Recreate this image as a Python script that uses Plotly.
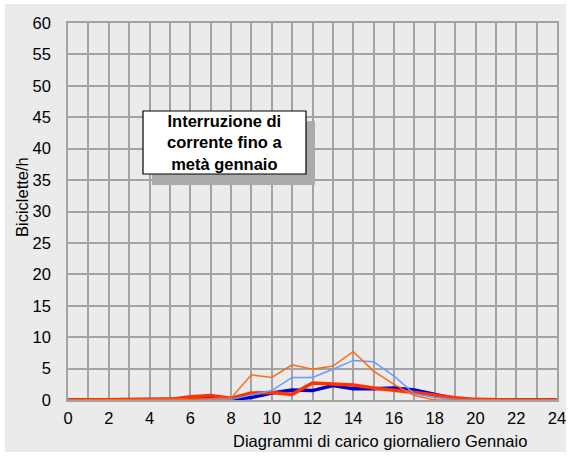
import plotly.graph_objects as go

hours = list(range(25))
thin_orange = [0, 0, 0, 0, 0, 0, 0.1, 0.2, 0.3, 4.0, 3.6, 5.6, 4.9, 5.4, 7.7, 4.6, 2.5, 0.7, 0, 0, 0, 0, 0, 0, 0]
light_blue = [0, 0, 0, 0, 0, 0, 0, 0.05, 0.1, 0.8, 1.5, 3.6, 3.6, 4.9, 6.3, 6.1, 3.8, 1.0, 0.4, 0.1, 0, 0, 0, 0, 0]
thick_blue = [0, 0, 0, 0, 0, 0, 0.1, 0.6, 0.1, 0.4, 1.1, 1.6, 1.5, 2.3, 1.8, 1.8, 1.9, 1.6, 0.9, 0.2, 0, 0, 0, 0, 0]
thick_red = [0, 0, 0, 0, 0, 0.1, 0.5, 0.7, 0.3, 1.1, 1.2, 0.9, 2.7, 2.6, 2.4, 1.9, 1.6, 1.2, 0.8, 0.35, 0.1, 0, 0, 0, 0]

x_ticks = list(range(0, 25, 2))
y_ticks = list(range(0, 61, 5))

FONT = "Liberation Sans, Arial, sans-serif"
FS = 16.5
W, H = 571, 459
L, R, T, B = 68, 14, 23, 59
PW, PH = W - L - R, H - T - B

def px(x):
    return (x - L) / PW

def py(y):
    return (H - B - y) / PH

fig = go.Figure()
fig.add_trace(go.Scatter(x=hours, y=thick_blue, mode="lines",
                         line=dict(color="#0000cc", width=3.5), showlegend=False))
fig.add_trace(go.Scatter(x=hours, y=thick_red, mode="lines",
                         line=dict(color="#ff3300", width=3.5), showlegend=False))
fig.add_trace(go.Scatter(x=hours, y=light_blue, mode="lines",
                         line=dict(color="#6699ff", width=1.5), showlegend=False))
fig.add_trace(go.Scatter(x=hours, y=thin_orange, mode="lines",
                         line=dict(color="#ff6a13", width=1.5), showlegend=False))

grid = "#a3a3a3"
fig.update_xaxes(range=[0, 24], tickvals=x_ticks, ticktext=[str(v) for v in x_ticks],
                 showgrid=True, gridcolor=grid, gridwidth=1.5,
                 minor=dict(dtick=1, showgrid=True, gridcolor=grid, gridwidth=1.5, ticks=""),
                 showline=True, linecolor=grid, linewidth=1.5, mirror=True,
                 zeroline=False, ticks="outside", ticklen=2, tickcolor="rgba(0,0,0,0)",
                 automargin=False,
                 tickfont=dict(family=FONT, size=FS, color="#000"))
fig.update_yaxes(range=[0, 60], tickvals=y_ticks, ticktext=[str(v) for v in y_ticks],
                 showgrid=True, gridcolor=grid, gridwidth=1.5,
                 showline=True, linecolor=grid, linewidth=1.5, mirror=True,
                 zeroline=False, ticks="outside", ticklen=12, tickcolor="rgba(0,0,0,0)",
                 automargin=False,
                 tickfont=dict(family=FONT, size=FS, color="#000"))

shapes = [
    dict(type="rect", xref="paper", yref="paper", layer="below",
         x0=px(5), x1=px(566), y0=py(452), y1=py(4),
         fillcolor="#ebebeb", line=dict(width=0)),
    dict(type="rect", xref="paper", yref="paper",
         x0=px(152), x1=px(315), y0=py(185), y1=py(121),
         fillcolor="#ababab", line=dict(width=0)),
    dict(type="rect", xref="paper", yref="paper",
         x0=px(143), x1=px(306), y0=py(174), y1=py(111),
         fillcolor="#ffffff", line=dict(color="#000000", width=1.2)),
]

annotations = [
    dict(xref="paper", yref="paper", x=px(224.5), y=py(142.5), xanchor="center", yanchor="middle",
         text="<b>Interruzione di<br>corrente fino a<br>metà gennaio</b>", showarrow=False,
         font=dict(family=FONT, size=FS, color="#000")),
    dict(xref="paper", yref="paper", x=px(22), y=py(197), xanchor="center", yanchor="middle",
         text="Biciclette/h", textangle=-90, showarrow=False,
         font=dict(family=FONT, size=FS, color="#000")),
    dict(xref="paper", yref="paper", x=px(380), y=py(441), xanchor="center", yanchor="middle",
         text="Diagrammi di carico giornaliero Gennaio", showarrow=False,
         font=dict(family=FONT, size=FS, color="#000")),
]

fig.update_layout(width=W, height=H, margin=dict(l=L, r=R, t=T, b=B),
                  paper_bgcolor="#ffffff", plot_bgcolor="#ebebeb",
                  shapes=shapes, annotations=annotations, showlegend=False)

fig.write_html("out.html", config={"displayModeBar": False},
               post_script="document.body.style.margin='0';document.body.style.overflow='hidden';")
